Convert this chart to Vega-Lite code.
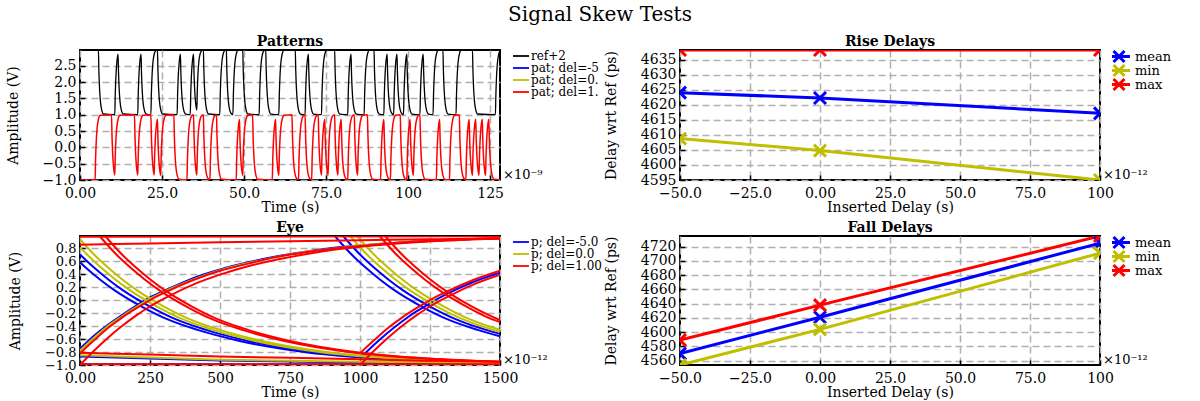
{
"$schema":"https://vega.github.io/schema/vega-lite/v6.json",
"title":{"text":"Signal Skew Tests","fontSize":20,"fontWeight":"normal","anchor":"middle","offset":9,"dx":11},
"padding":5,
"columns":2,
"spacing":{"row":56,"column":180},
"bounds":"flush",
"resolve":{"scale":{"color":"independent"},"legend":{"color":"independent"}},
"datasets":{
"ref":[{"t":0,"v":3},{"t":5.6,"v":3},{"t":5.75,"v":2.36},{"t":5.95,"v":1.82},{"t":6.2,"v":1.43},{"t":6.6,"v":1.15},{"t":7.2,"v":1.02},
{"t":10.6,"v":1},{"t":10.75,"v":1.64},{"t":10.95,"v":2.18},{"t":11.2,"v":2.57},{"t":11.6,"v":2.85},
{"t":11.75,"v":2.26},{"t":11.95,"v":1.76},{"t":12.2,"v":1.4},{"t":12.6,"v":1.14},{"t":13.2,"v":1.02},
{"t":17.6,"v":1},{"t":17.75,"v":1.64},{"t":17.95,"v":2.18},{"t":18.2,"v":2.57},{"t":18.6,"v":2.85},
{"t":18.75,"v":2.26},{"t":18.95,"v":1.76},{"t":19.2,"v":1.4},{"t":19.6,"v":1.14},{"t":20.2,"v":1.02},
{"t":21.6,"v":1},{"t":21.75,"v":1.64},{"t":21.95,"v":2.18},{"t":22.2,"v":2.57},{"t":22.6,"v":2.85},{"t":23.2,"v":2.98},
{"t":23.6,"v":3},{"t":23.75,"v":2.36},{"t":23.95,"v":1.82},{"t":24.2,"v":1.43},{"t":24.6,"v":1.15},{"t":25.2,"v":1.02},
{"t":29.6,"v":1},{"t":29.75,"v":1.64},{"t":29.95,"v":2.18},{"t":30.2,"v":2.57},{"t":30.6,"v":2.85},
{"t":30.75,"v":2.26},{"t":30.95,"v":1.76},{"t":31.2,"v":1.4},{"t":31.6,"v":1.14},{"t":32.2,"v":1.02},
{"t":33.6,"v":1},{"t":33.75,"v":1.64},{"t":33.95,"v":2.18},{"t":34.2,"v":2.57},{"t":34.6,"v":2.85},
{"t":34.75,"v":2.26},{"t":34.95,"v":1.76},{"t":35.2,"v":1.4},{"t":35.6,"v":1.14},
{"t":35.75,"v":1.74},{"t":35.95,"v":2.25},{"t":36.2,"v":2.6},{"t":36.6,"v":2.86},{"t":37.2,"v":2.98},
{"t":37.6,"v":3},{"t":37.75,"v":2.36},{"t":37.95,"v":1.82},{"t":38.2,"v":1.43},{"t":38.6,"v":1.15},{"t":39.2,"v":1.02},
{"t":42.6,"v":1},{"t":42.75,"v":1.64},{"t":42.95,"v":2.18},{"t":43.2,"v":2.57},{"t":43.6,"v":2.85},{"t":44.2,"v":2.98},
{"t":44.6,"v":3},{"t":44.75,"v":2.36},{"t":44.95,"v":1.82},{"t":45.2,"v":1.43},{"t":45.6,"v":1.15},{"t":46.2,"v":1.02},
{"t":46.6,"v":1},{"t":46.75,"v":1.64},{"t":46.95,"v":2.18},{"t":47.2,"v":2.57},{"t":47.6,"v":2.85},{"t":48.2,"v":2.98},
{"t":49.6,"v":3},{"t":49.75,"v":2.36},{"t":49.95,"v":1.82},{"t":50.2,"v":1.43},{"t":50.6,"v":1.15},{"t":51.2,"v":1.02},
{"t":54.6,"v":1},{"t":54.75,"v":1.64},{"t":54.95,"v":2.18},{"t":55.2,"v":2.57},{"t":55.6,"v":2.85},{"t":56.2,"v":2.98},
{"t":56.6,"v":3},{"t":56.75,"v":2.36},{"t":56.95,"v":1.82},{"t":57.2,"v":1.43},{"t":57.6,"v":1.15},{"t":58.2,"v":1.02},
{"t":60.6,"v":1},{"t":60.75,"v":1.64},{"t":60.95,"v":2.18},{"t":61.2,"v":2.57},{"t":61.6,"v":2.85},{"t":62.2,"v":2.98},
{"t":65.6,"v":3},{"t":65.75,"v":2.36},{"t":65.95,"v":1.82},{"t":66.2,"v":1.43},{"t":66.6,"v":1.15},{"t":67.2,"v":1.02},
{"t":68.6,"v":1},{"t":68.75,"v":1.64},{"t":68.95,"v":2.18},{"t":69.2,"v":2.57},{"t":69.6,"v":2.85},
{"t":69.75,"v":2.26},{"t":69.95,"v":1.76},{"t":70.2,"v":1.4},{"t":70.6,"v":1.14},{"t":71.2,"v":1.02},
{"t":73.6,"v":1},{"t":73.75,"v":1.64},{"t":73.95,"v":2.18},{"t":74.2,"v":2.57},{"t":74.6,"v":2.85},{"t":75.2,"v":2.98},
{"t":77.6,"v":3},{"t":77.75,"v":2.36},{"t":77.95,"v":1.82},{"t":78.2,"v":1.43},{"t":78.6,"v":1.15},{"t":79.2,"v":1.02},
{"t":81.6,"v":1},{"t":81.75,"v":1.64},{"t":81.95,"v":2.18},{"t":82.2,"v":2.57},{"t":82.6,"v":2.85},
{"t":82.75,"v":2.26},{"t":82.95,"v":1.76},{"t":83.2,"v":1.4},{"t":83.6,"v":1.14},{"t":84.2,"v":1.02},
{"t":86.6,"v":1},{"t":86.75,"v":1.64},{"t":86.95,"v":2.18},{"t":87.2,"v":2.57},{"t":87.6,"v":2.85},{"t":88.2,"v":2.98},
{"t":89.6,"v":3},{"t":89.75,"v":2.36},{"t":89.95,"v":1.82},{"t":90.2,"v":1.43},{"t":90.6,"v":1.15},{"t":91.2,"v":1.02},
{"t":92.6,"v":1},{"t":92.75,"v":1.64},{"t":92.95,"v":2.18},{"t":93.2,"v":2.57},{"t":93.6,"v":2.85},
{"t":93.75,"v":2.26},{"t":93.95,"v":1.76},{"t":94.2,"v":1.4},{"t":94.6,"v":1.14},{"t":95.2,"v":1.02},
{"t":95.6,"v":1},{"t":95.75,"v":1.64},{"t":95.95,"v":2.18},{"t":96.2,"v":2.57},{"t":96.6,"v":2.85},
{"t":96.75,"v":2.26},{"t":96.95,"v":1.76},{"t":97.2,"v":1.4},{"t":97.6,"v":1.14},{"t":98.2,"v":1.02},
{"t":98.6,"v":1},{"t":98.75,"v":1.64},{"t":98.95,"v":2.18},{"t":99.2,"v":2.57},{"t":99.6,"v":2.85},
{"t":99.75,"v":2.26},{"t":99.95,"v":1.76},{"t":100.2,"v":1.4},{"t":100.6,"v":1.14},{"t":101.2,"v":1.02},
{"t":103.6,"v":1},{"t":103.75,"v":1.64},{"t":103.95,"v":2.18},{"t":104.2,"v":2.57},{"t":104.6,"v":2.85},
{"t":104.75,"v":2.26},{"t":104.95,"v":1.76},{"t":105.2,"v":1.4},{"t":105.6,"v":1.14},{"t":106.2,"v":1.02},
{"t":107.6,"v":1},{"t":107.75,"v":1.64},{"t":107.95,"v":2.18},{"t":108.2,"v":2.57},{"t":108.6,"v":2.85},{"t":109.2,"v":2.98},
{"t":110.6,"v":3},{"t":110.75,"v":2.36},{"t":110.95,"v":1.82},{"t":111.2,"v":1.43},{"t":111.6,"v":1.15},{"t":112.2,"v":1.02},
{"t":114.6,"v":1},{"t":114.75,"v":1.64},{"t":114.95,"v":2.18},{"t":115.2,"v":2.57},{"t":115.6,"v":2.85},{"t":116.2,"v":2.98},
{"t":119.6,"v":3},{"t":119.75,"v":2.36},{"t":119.95,"v":1.82},{"t":120.2,"v":1.43},{"t":120.6,"v":1.15},{"t":121.2,"v":1.02},
{"t":126.6,"v":1},{"t":126.75,"v":1.64},{"t":126.95,"v":2.18},{"t":127.2,"v":2.57},{"t":127.6,"v":2.85},{"t":128,"v":2.95}],
"pat":[{"t":0,"v":-1},{"t":4.6,"v":-1},{"t":4.75,"v":-0.36},{"t":4.95,"v":0.18},{"t":5.2,"v":0.57},{"t":5.6,"v":0.85},{"t":6.2,"v":0.98},
{"t":9.6,"v":1},{"t":9.75,"v":0.36},{"t":9.95,"v":-0.18},{"t":10.2,"v":-0.57},{"t":10.6,"v":-0.85},
{"t":10.75,"v":-0.26},{"t":10.95,"v":0.25},{"t":11.2,"v":0.6},{"t":11.6,"v":0.86},{"t":12.2,"v":0.98},
{"t":16.6,"v":1},{"t":16.75,"v":0.36},{"t":16.95,"v":-0.18},{"t":17.2,"v":-0.57},{"t":17.6,"v":-0.85},
{"t":17.75,"v":-0.26},{"t":17.95,"v":0.25},{"t":18.2,"v":0.6},{"t":18.6,"v":0.86},{"t":19.2,"v":0.98},
{"t":21.6,"v":1},{"t":21.75,"v":0.36},{"t":21.95,"v":-0.18},{"t":22.2,"v":-0.57},{"t":22.6,"v":-0.85},
{"t":22.75,"v":-0.26},{"t":22.95,"v":0.25},{"t":23.2,"v":0.6},{"t":23.6,"v":0.86},
{"t":23.75,"v":0.26},{"t":23.95,"v":-0.25},{"t":24.2,"v":-0.6},{"t":24.6,"v":-0.86},
{"t":24.75,"v":-0.26},{"t":24.95,"v":0.25},{"t":25.2,"v":0.6},{"t":25.6,"v":0.86},{"t":26.2,"v":0.98},
{"t":28.6,"v":1},{"t":28.75,"v":0.36},{"t":28.95,"v":-0.18},{"t":29.2,"v":-0.57},{"t":29.6,"v":-0.85},{"t":30.2,"v":-0.98},
{"t":32.6,"v":-1},{"t":32.75,"v":-0.36},{"t":32.95,"v":0.18},{"t":33.2,"v":0.57},{"t":33.6,"v":0.85},{"t":34.2,"v":0.98},
{"t":34.6,"v":1},{"t":34.75,"v":0.36},{"t":34.95,"v":-0.18},{"t":35.2,"v":-0.57},{"t":35.6,"v":-0.85},
{"t":35.75,"v":-0.26},{"t":35.95,"v":0.25},{"t":36.2,"v":0.6},{"t":36.6,"v":0.86},{"t":37.2,"v":0.98},
{"t":37.6,"v":1},{"t":37.75,"v":0.36},{"t":37.95,"v":-0.18},{"t":38.2,"v":-0.57},{"t":38.6,"v":-0.85},{"t":39.2,"v":-0.98},
{"t":39.6,"v":-1},{"t":39.75,"v":-0.36},{"t":39.95,"v":0.18},{"t":40.2,"v":0.57},{"t":40.6,"v":0.85},{"t":41.2,"v":0.98},
{"t":41.6,"v":1},{"t":41.75,"v":0.36},{"t":41.95,"v":-0.18},{"t":42.2,"v":-0.57},{"t":42.6,"v":-0.85},{"t":43.2,"v":-0.98},
{"t":47.6,"v":-1},{"t":47.75,"v":-0.36},{"t":47.95,"v":0.18},{"t":48.2,"v":0.57},{"t":48.6,"v":0.85},
{"t":48.75,"v":0.26},{"t":48.95,"v":-0.25},{"t":49.2,"v":-0.6},{"t":49.6,"v":-0.86},
{"t":49.75,"v":-0.26},{"t":49.95,"v":0.25},{"t":50.2,"v":0.6},{"t":50.6,"v":0.86},{"t":51.2,"v":0.98},
{"t":52.6,"v":1},{"t":52.75,"v":0.36},{"t":52.95,"v":-0.18},{"t":53.2,"v":-0.57},{"t":53.6,"v":-0.85},{"t":54.2,"v":-0.98},
{"t":58.6,"v":-1},{"t":58.75,"v":-0.36},{"t":58.95,"v":0.18},{"t":59.2,"v":0.57},{"t":59.6,"v":0.85},
{"t":59.75,"v":0.26},{"t":59.95,"v":-0.25},{"t":60.2,"v":-0.6},{"t":60.6,"v":-0.86},
{"t":60.75,"v":-0.26},{"t":60.95,"v":0.25},{"t":61.2,"v":0.6},{"t":61.6,"v":0.86},{"t":62.2,"v":0.98},
{"t":64.6,"v":1},{"t":64.75,"v":0.36},{"t":64.95,"v":-0.18},{"t":65.2,"v":-0.57},{"t":65.6,"v":-0.85},{"t":66.2,"v":-0.98},
{"t":66.6,"v":-1},{"t":66.75,"v":-0.36},{"t":66.95,"v":0.18},{"t":67.2,"v":0.57},{"t":67.6,"v":0.85},{"t":68.2,"v":0.98},
{"t":68.6,"v":1},{"t":68.75,"v":0.36},{"t":68.95,"v":-0.18},{"t":69.2,"v":-0.57},{"t":69.6,"v":-0.85},{"t":70.2,"v":-0.98},
{"t":70.6,"v":-1},{"t":70.75,"v":-0.36},{"t":70.95,"v":0.18},{"t":71.2,"v":0.57},{"t":71.6,"v":0.85},{"t":72.2,"v":0.98},
{"t":72.6,"v":1},{"t":72.75,"v":0.36},{"t":72.95,"v":-0.18},{"t":73.2,"v":-0.57},{"t":73.6,"v":-0.85},
{"t":73.75,"v":-0.26},{"t":73.95,"v":0.25},{"t":74.2,"v":0.6},{"t":74.6,"v":0.86},
{"t":74.75,"v":0.26},{"t":74.95,"v":-0.25},{"t":75.2,"v":-0.6},{"t":75.6,"v":-0.86},
{"t":75.75,"v":-0.26},{"t":75.95,"v":0.25},{"t":76.2,"v":0.6},{"t":76.6,"v":0.86},{"t":77.2,"v":0.98},
{"t":77.6,"v":1},{"t":77.75,"v":0.36},{"t":77.95,"v":-0.18},{"t":78.2,"v":-0.57},{"t":78.6,"v":-0.85},
{"t":78.75,"v":-0.26},{"t":78.95,"v":0.25},{"t":79.2,"v":0.6},{"t":79.6,"v":0.86},
{"t":79.75,"v":0.26},{"t":79.95,"v":-0.25},{"t":80.2,"v":-0.6},{"t":80.6,"v":-0.86},{"t":81.2,"v":-0.98},
{"t":81.6,"v":-1},{"t":81.75,"v":-0.36},{"t":81.95,"v":0.18},{"t":82.2,"v":0.57},{"t":82.6,"v":0.85},{"t":83.2,"v":0.98},
{"t":83.6,"v":1},{"t":83.75,"v":0.36},{"t":83.95,"v":-0.18},{"t":84.2,"v":-0.57},{"t":84.6,"v":-0.85},
{"t":84.75,"v":-0.26},{"t":84.95,"v":0.25},{"t":85.2,"v":0.6},{"t":85.6,"v":0.86},{"t":86.2,"v":0.98},
{"t":87.6,"v":1},{"t":87.75,"v":0.36},{"t":87.95,"v":-0.18},{"t":88.2,"v":-0.57},{"t":88.6,"v":-0.85},{"t":89.2,"v":-0.98},
{"t":91.6,"v":-1},{"t":91.75,"v":-0.36},{"t":91.95,"v":0.18},{"t":92.2,"v":0.57},{"t":92.6,"v":0.85},
{"t":92.75,"v":0.26},{"t":92.95,"v":-0.25},{"t":93.2,"v":-0.6},{"t":93.6,"v":-0.86},{"t":94.2,"v":-0.98},
{"t":94.6,"v":-1},{"t":94.75,"v":-0.36},{"t":94.95,"v":0.18},{"t":95.2,"v":0.57},{"t":95.6,"v":0.85},{"t":96.2,"v":0.98},
{"t":97.6,"v":1},{"t":97.75,"v":0.36},{"t":97.95,"v":-0.18},{"t":98.2,"v":-0.57},{"t":98.6,"v":-0.85},{"t":99.2,"v":-0.98},
{"t":99.6,"v":-1},{"t":99.75,"v":-0.36},{"t":99.95,"v":0.18},{"t":100.2,"v":0.57},{"t":100.6,"v":0.85},
{"t":100.75,"v":0.26},{"t":100.95,"v":-0.25},{"t":101.2,"v":-0.6},{"t":101.6,"v":-0.86},
{"t":101.75,"v":-0.26},{"t":101.95,"v":0.25},{"t":102.2,"v":0.6},{"t":102.6,"v":0.86},{"t":103.2,"v":0.98},
{"t":103.6,"v":1},{"t":103.75,"v":0.36},{"t":103.95,"v":-0.18},{"t":104.2,"v":-0.57},{"t":104.6,"v":-0.85},{"t":105.2,"v":-0.98},
{"t":108.6,"v":-1},{"t":108.75,"v":-0.36},{"t":108.95,"v":0.18},{"t":109.2,"v":0.57},{"t":109.6,"v":0.85},
{"t":109.75,"v":0.26},{"t":109.95,"v":-0.25},{"t":110.2,"v":-0.6},{"t":110.6,"v":-0.86},{"t":111.2,"v":-0.98},
{"t":112.6,"v":-1},{"t":112.75,"v":-0.36},{"t":112.95,"v":0.18},{"t":113.2,"v":0.57},{"t":113.6,"v":0.85},{"t":114.2,"v":0.98},
{"t":115.6,"v":1},{"t":115.75,"v":0.36},{"t":115.95,"v":-0.18},{"t":116.2,"v":-0.57},{"t":116.6,"v":-0.85},{"t":117.2,"v":-0.98},
{"t":117.6,"v":-1},{"t":117.75,"v":-0.36},{"t":117.95,"v":0.18},{"t":118.2,"v":0.57},{"t":118.6,"v":0.85},
{"t":118.75,"v":0.26},{"t":118.95,"v":-0.25},{"t":119.2,"v":-0.6},{"t":119.6,"v":-0.86},
{"t":119.75,"v":-0.26},{"t":119.95,"v":0.25},{"t":120.2,"v":0.6},{"t":120.6,"v":0.86},
{"t":120.75,"v":0.26},{"t":120.95,"v":-0.25},{"t":121.2,"v":-0.6},{"t":121.6,"v":-0.86},
{"t":121.75,"v":-0.26},{"t":121.95,"v":0.25},{"t":122.2,"v":0.6},{"t":122.6,"v":0.86},
{"t":122.75,"v":0.26},{"t":122.95,"v":-0.25},{"t":123.2,"v":-0.6},{"t":123.6,"v":-0.86},
{"t":123.75,"v":-0.26},{"t":123.95,"v":0.25},{"t":124.2,"v":0.6},{"t":124.6,"v":0.86},
{"t":124.75,"v":0.26},{"t":124.95,"v":-0.25},{"t":125.2,"v":-0.6},{"t":125.6,"v":-0.86},{"t":126.2,"v":-0.98},{"t":128,"v":-1}],
"eyeB":[
{"c":"f1","t":0,"v":0.70},{"c":"f1","t":50,"v":0.50},{"c":"f1","t":100,"v":0.32},{"c":"f1","t":150,"v":0.16},{"c":"f1","t":250,"v":-0.10},{"c":"f1","t":350,"v":-0.31},{"c":"f1","t":450,"v":-0.46},{"c":"f1","t":600,"v":-0.63},{"c":"f1","t":850,"v":-0.81},{"c":"f1","t":1100,"v":-0.90},{"c":"f1","t":1350,"v":-0.95},{"c":"f1","t":1500,"v":-0.97},
{"c":"f2","t":0,"v":0.58},{"c":"f2","t":20,"v":0.50},{"c":"f2","t":70,"v":0.32},{"c":"f2","t":120,"v":0.16},{"c":"f2","t":220,"v":-0.10},{"c":"f2","t":320,"v":-0.31},{"c":"f2","t":420,"v":-0.46},{"c":"f2","t":570,"v":-0.63},{"c":"f2","t":820,"v":-0.81},{"c":"f2","t":1070,"v":-0.90},{"c":"f2","t":1320,"v":-0.95},{"c":"f2","t":1500,"v":-0.97},
{"c":"f3","t":937,"v":1.0},{"c":"f3","t":950,"v":0.935},{"c":"f3","t":1000,"v":0.70},{"c":"f3","t":1050,"v":0.50},{"c":"f3","t":1100,"v":0.32},{"c":"f3","t":1150,"v":0.16},{"c":"f3","t":1250,"v":-0.10},{"c":"f3","t":1350,"v":-0.31},{"c":"f3","t":1450,"v":-0.46},{"c":"f3","t":1500,"v":-0.52},
{"c":"f4","t":907,"v":1.0},{"c":"f4","t":920,"v":0.935},{"c":"f4","t":970,"v":0.70},{"c":"f4","t":1020,"v":0.50},{"c":"f4","t":1070,"v":0.32},{"c":"f4","t":1120,"v":0.16},{"c":"f4","t":1220,"v":-0.10},{"c":"f4","t":1320,"v":-0.31},{"c":"f4","t":1420,"v":-0.46},{"c":"f4","t":1500,"v":-0.56},
{"c":"r1","t":0,"v":-0.75},{"c":"r1","t":50,"v":-0.55},{"c":"r1","t":100,"v":-0.38},{"c":"r1","t":150,"v":-0.23},{"c":"r1","t":200,"v":-0.09},{"c":"r1","t":250,"v":0.04},{"c":"r1","t":300,"v":0.14},{"c":"r1","t":400,"v":0.33},{"c":"r1","t":500,"v":0.47},{"c":"r1","t":600,"v":0.58},{"c":"r1","t":700,"v":0.67},{"c":"r1","t":800,"v":0.74},{"c":"r1","t":900,"v":0.80},{"c":"r1","t":1000,"v":0.84},{"c":"r1","t":1200,"v":0.90},{"c":"r1","t":1400,"v":0.94},{"c":"r1","t":1500,"v":0.95},
{"c":"r2","t":1000,"v":-0.9},{"c":"r2","t":1050,"v":-0.69},{"c":"r2","t":1100,"v":-0.5},{"c":"r2","t":1150,"v":-0.33},{"c":"r2","t":1200,"v":-0.18},{"c":"r2","t":1250,"v":-0.05},{"c":"r2","t":1300,"v":0.07},{"c":"r2","t":1400,"v":0.27},{"c":"r2","t":1500,"v":0.42},
{"c":"l1","t":0,"v":-0.87},{"c":"l1","t":500,"v":-0.93},{"c":"l1","t":1000,"v":-0.96},{"c":"l1","t":1500,"v":-0.975},
{"c":"l2","t":0,"v":-0.99},{"c":"l2","t":1500,"v":-0.99}],
"eyeY":[
{"c":"f1","t":0,"v":0.935},{"c":"f1","t":50,"v":0.70},{"c":"f1","t":100,"v":0.50},{"c":"f1","t":150,"v":0.32},{"c":"f1","t":200,"v":0.16},{"c":"f1","t":300,"v":-0.10},{"c":"f1","t":400,"v":-0.31},{"c":"f1","t":500,"v":-0.46},{"c":"f1","t":650,"v":-0.63},{"c":"f1","t":900,"v":-0.81},{"c":"f1","t":1150,"v":-0.90},{"c":"f1","t":1400,"v":-0.95},{"c":"f1","t":1500,"v":-0.96},
{"c":"f2","t":0,"v":0.81},{"c":"f2","t":25,"v":0.70},{"c":"f2","t":75,"v":0.50},{"c":"f2","t":125,"v":0.32},{"c":"f2","t":175,"v":0.16},{"c":"f2","t":275,"v":-0.10},{"c":"f2","t":375,"v":-0.31},{"c":"f2","t":475,"v":-0.46},{"c":"f2","t":625,"v":-0.63},{"c":"f2","t":875,"v":-0.81},{"c":"f2","t":1125,"v":-0.90},{"c":"f2","t":1375,"v":-0.95},{"c":"f2","t":1500,"v":-0.96},
{"c":"f3","t":987,"v":1.0},{"c":"f3","t":1000,"v":0.935},{"c":"f3","t":1050,"v":0.70},{"c":"f3","t":1100,"v":0.50},{"c":"f3","t":1150,"v":0.32},{"c":"f3","t":1200,"v":0.16},{"c":"f3","t":1300,"v":-0.10},{"c":"f3","t":1400,"v":-0.31},{"c":"f3","t":1500,"v":-0.46},
{"c":"f4","t":962,"v":1.0},{"c":"f4","t":975,"v":0.935},{"c":"f4","t":1025,"v":0.70},{"c":"f4","t":1075,"v":0.50},{"c":"f4","t":1125,"v":0.32},{"c":"f4","t":1175,"v":0.16},{"c":"f4","t":1275,"v":-0.10},{"c":"f4","t":1375,"v":-0.31},{"c":"f4","t":1475,"v":-0.46},{"c":"f4","t":1500,"v":-0.49},
{"c":"r1","t":0,"v":-0.78},{"c":"r1","t":50,"v":-0.58},{"c":"r1","t":100,"v":-0.40},{"c":"r1","t":150,"v":-0.25},{"c":"r1","t":200,"v":-0.11},{"c":"r1","t":250,"v":0.02},{"c":"r1","t":300,"v":0.13},{"c":"r1","t":400,"v":0.31},{"c":"r1","t":500,"v":0.46},{"c":"r1","t":600,"v":0.57},{"c":"r1","t":700,"v":0.66},{"c":"r1","t":800,"v":0.74},{"c":"r1","t":900,"v":0.79},{"c":"r1","t":1000,"v":0.84},{"c":"r1","t":1200,"v":0.90},{"c":"r1","t":1400,"v":0.94},{"c":"r1","t":1500,"v":0.95},
{"c":"l1","t":0,"v":-0.85},{"c":"l1","t":500,"v":-0.92},{"c":"l1","t":1000,"v":-0.95},{"c":"l1","t":1500,"v":-0.97}],
"eyeR":[
{"c":"f1","t":87,"v":1.0},{"c":"f1","t":100,"v":0.935},{"c":"f1","t":150,"v":0.70},{"c":"f1","t":200,"v":0.50},{"c":"f1","t":250,"v":0.32},{"c":"f1","t":300,"v":0.16},{"c":"f1","t":400,"v":-0.10},{"c":"f1","t":500,"v":-0.31},{"c":"f1","t":600,"v":-0.46},{"c":"f1","t":750,"v":-0.63},{"c":"f1","t":1000,"v":-0.81},{"c":"f1","t":1250,"v":-0.90},{"c":"f1","t":1500,"v":-0.95},
{"c":"f2","t":67,"v":1.0},{"c":"f2","t":80,"v":0.935},{"c":"f2","t":130,"v":0.70},{"c":"f2","t":180,"v":0.50},{"c":"f2","t":230,"v":0.32},{"c":"f2","t":280,"v":0.16},{"c":"f2","t":380,"v":-0.10},{"c":"f2","t":480,"v":-0.31},{"c":"f2","t":580,"v":-0.46},{"c":"f2","t":730,"v":-0.63},{"c":"f2","t":980,"v":-0.81},{"c":"f2","t":1230,"v":-0.90},{"c":"f2","t":1500,"v":-0.95},
{"c":"f3","t":1087,"v":1.0},{"c":"f3","t":1100,"v":0.935},{"c":"f3","t":1150,"v":0.70},{"c":"f3","t":1200,"v":0.50},{"c":"f3","t":1250,"v":0.32},{"c":"f3","t":1300,"v":0.16},{"c":"f3","t":1400,"v":-0.10},{"c":"f3","t":1500,"v":-0.31},
{"c":"f4","t":1067,"v":1.0},{"c":"f4","t":1080,"v":0.935},{"c":"f4","t":1130,"v":0.70},{"c":"f4","t":1180,"v":0.50},{"c":"f4","t":1230,"v":0.32},{"c":"f4","t":1280,"v":0.16},{"c":"f4","t":1380,"v":-0.10},{"c":"f4","t":1480,"v":-0.31},{"c":"f4","t":1500,"v":-0.34},
{"c":"r1","t":0,"v":-0.82},{"c":"r1","t":50,"v":-0.62},{"c":"r1","t":100,"v":-0.43},{"c":"r1","t":150,"v":-0.27},{"c":"r1","t":200,"v":-0.13},{"c":"r1","t":250,"v":0.0},{"c":"r1","t":300,"v":0.11},{"c":"r1","t":400,"v":0.30},{"c":"r1","t":500,"v":0.45},{"c":"r1","t":600,"v":0.56},{"c":"r1","t":700,"v":0.66},{"c":"r1","t":800,"v":0.73},{"c":"r1","t":900,"v":0.79},{"c":"r1","t":1000,"v":0.83},{"c":"r1","t":1200,"v":0.90},{"c":"r1","t":1400,"v":0.94},{"c":"r1","t":1500,"v":0.95},
{"c":"r2","t":0,"v":-1.0},{"c":"r2","t":50,"v":-0.78},{"c":"r2","t":100,"v":-0.58},{"c":"r2","t":150,"v":-0.40},{"c":"r2","t":200,"v":-0.24},{"c":"r2","t":250,"v":-0.10},{"c":"r2","t":300,"v":0.02},{"c":"r2","t":400,"v":0.23},{"c":"r2","t":500,"v":0.39},{"c":"r2","t":600,"v":0.52},{"c":"r2","t":700,"v":0.62},{"c":"r2","t":800,"v":0.70},{"c":"r2","t":900,"v":0.77},{"c":"r2","t":1000,"v":0.82},{"c":"r2","t":1200,"v":0.89},{"c":"r2","t":1400,"v":0.93},{"c":"r2","t":1500,"v":0.945},
{"c":"r3","t":1000,"v":-0.82},{"c":"r3","t":1050,"v":-0.62},{"c":"r3","t":1100,"v":-0.43},{"c":"r3","t":1150,"v":-0.27},{"c":"r3","t":1200,"v":-0.13},{"c":"r3","t":1250,"v":0.0},{"c":"r3","t":1300,"v":0.11},{"c":"r3","t":1400,"v":0.30},{"c":"r3","t":1500,"v":0.45},
{"c":"r4","t":1000,"v":-1.0},{"c":"r4","t":1050,"v":-0.78},{"c":"r4","t":1100,"v":-0.58},{"c":"r4","t":1150,"v":-0.40},{"c":"r4","t":1200,"v":-0.24},{"c":"r4","t":1250,"v":-0.10},{"c":"r4","t":1300,"v":0.02},{"c":"r4","t":1400,"v":0.23},{"c":"r4","t":1500,"v":0.39},
{"c":"h1","t":0,"v":0.85},{"c":"h1","t":250,"v":0.87},{"c":"h1","t":500,"v":0.89},{"c":"h1","t":750,"v":0.905},{"c":"h1","t":1000,"v":0.92},{"c":"h1","t":1250,"v":0.935},{"c":"h1","t":1500,"v":0.945},
{"c":"h2","t":0,"v":0.975},{"c":"h2","t":1500,"v":0.98},
{"c":"l1","t":0,"v":-0.81},{"c":"l1","t":250,"v":-0.84},{"c":"l1","t":500,"v":-0.87},{"c":"l1","t":750,"v":-0.89},{"c":"l1","t":1000,"v":-0.91},{"c":"l1","t":1250,"v":-0.935},{"c":"l1","t":1500,"v":-0.95},
{"c":"l2","t":0,"v":-0.99},{"c":"l2","t":1500,"v":-0.99}],
"rise":[
{"stat":"mean","d":-50,"v":4624.1},{"stat":"mean","d":0,"v":4622.3},{"stat":"mean","d":100,"v":4617.2},
{"stat":"min","d":-50,"v":4608.8},{"stat":"min","d":0,"v":4604.8},{"stat":"min","d":100,"v":4595},
{"stat":"max","d":-50,"v":4638.3},{"stat":"max","d":0,"v":4638.3},{"stat":"max","d":100,"v":4638.3}],
"fall":[
{"stat":"mean","d":-50,"v":4570},{"stat":"mean","d":0,"v":4621},{"stat":"mean","d":100,"v":4725},
{"stat":"min","d":-50,"v":4554},{"stat":"min","d":0,"v":4604},{"stat":"min","d":100,"v":4711},
{"stat":"max","d":-50,"v":4589},{"stat":"max","d":0,"v":4638},{"stat":"max","d":100,"v":4735}]
},
"concat":[
{
"width":420,"height":130,"title":"Patterns",
"layer":[
{"data":{"name":"ref"},"mark":{"type":"line","clip":true,"strokeWidth":1.3,"interpolate":"monotone"},
"encoding":{
"x":{"field":"t","type":"quantitative","scale":{"domain":[0,128],"nice":false,"zero":false},"axis":{"title":"Time (s)","labelOverlap":false,"tickCount":50,"values":[0,25,50,75,100,125],"labelExpr":"datum.value == 0 ? '0.00' : datum.value < 100 ? format(datum.value, '.1f') : format(datum.value, 'd')"}},
"y":{"field":"v","type":"quantitative","scale":{"domain":[-1,2.98],"nice":false,"zero":false},"axis":{"title":"Amplitude (V)","labelOverlap":false,"tickCount":50,"values":[-1,-0.5,0,0.5,1,1.5,2,2.5],"format":".1f"}},
"color":{"datum":"ref+2","type":"nominal","scale":{"domain":["ref+2","pat; del=-5","pat; del=0.","pat; del=1."],"range":["#000000","#0000ff","#bfbf00","#ff0000"]},"legend":{"title":null,"symbolType":"M-2,0L2,0","symbolSize":100,"symbolStrokeWidth":1.8,"offset":13,"rowPadding":0,"clipHeight":12,"labelFontSize":12}}}},
{"data":{"name":"pat"},"mark":{"type":"line","clip":true,"strokeWidth":1.5,"interpolate":"monotone"},
"encoding":{"x":{"field":"t","type":"quantitative"},"y":{"field":"v","type":"quantitative"},"color":{"datum":"pat; del=1.","type":"nominal"}}},
{"data":{"values":[{}]},"mark":{"type":"text","text":"×10⁻⁹","align":"left","baseline":"middle","dx":3,"dy":-5,"fontSize":13,"font":"DejaVu Serif"},
"encoding":{"x":{"datum":128,"type":"quantitative"},"y":{"datum":-1,"type":"quantitative"}}}
]},
{
"width":420,"height":130,"title":"Rise Delays",
"layer":[
{"data":{"name":"rise"},"mark":{"type":"line","clip":true,"strokeWidth":3},
"encoding":{
"x":{"field":"d","type":"quantitative","scale":{"domain":[-50,100],"nice":false,"zero":false},"axis":{"title":"Inserted Delay (s)","labelOverlap":false,"tickCount":50,"values":[-50,-25,0,25,50,75,100],"labelExpr":"datum.value == 0 ? '0.00' : datum.value == 100 ? '100' : format(datum.value, '.1f')"}},
"y":{"field":"v","type":"quantitative","scale":{"domain":[4595,4638.3],"nice":false,"zero":false},"axis":{"title":"Delay wrt Ref (ps)","labelOverlap":false,"tickCount":50,"values":[4595,4600,4605,4610,4615,4620,4625,4630,4635],"format":"d"}},
"color":{"field":"stat","type":"nominal","scale":{"domain":["mean","min","max"],"range":["#0000ff","#bfbf00","#ff0000"]},"legend":{"title":null,"symbolType":"M-2,0L2,0M-1,-1L1,1M-1,1L1,-1","symbolSize":121,"symbolStrokeWidth":3,"labelFontSize":13,"offset":12,"labelOffset":9,"rowPadding":0,"clipHeight":13}}}},
{"data":{"name":"rise"},"mark":{"type":"point","clip":true,"shape":"M-1,-1L1,1M-1,1L1,-1","size":144,"filled":false,"strokeWidth":3,"opacity":1},
"encoding":{"x":{"field":"d","type":"quantitative"},"y":{"field":"v","type":"quantitative"},"color":{"field":"stat","type":"nominal"}}},
{"data":{"values":[{}]},"mark":{"type":"text","text":"×10⁻¹²","align":"left","baseline":"middle","dx":3,"dy":-5,"fontSize":13,"font":"DejaVu Serif"},
"encoding":{"x":{"datum":100,"type":"quantitative"},"y":{"datum":4595,"type":"quantitative"}}}
]},
{
"width":420,"height":129,"title":"Eye",
"layer":[
{"data":{"name":"eyeB"},"mark":{"type":"line","clip":true,"strokeWidth":2,"interpolate":"monotone"},
"encoding":{
"x":{"field":"t","type":"quantitative","scale":{"domain":[0,1500],"nice":false,"zero":false},"axis":{"title":"Time (s)","labelOverlap":false,"tickCount":50,"values":[0,250,500,750,1000,1250,1500],"labelExpr":"datum.value == 0 ? '0.00' : format(datum.value, 'd')"}},
"y":{"field":"v","type":"quantitative","scale":{"domain":[-1,0.985],"nice":false,"zero":false},"axis":{"title":"Amplitude (V)","labelOverlap":false,"labelFontSize":13,"tickCount":50,"values":[-1,-0.8,-0.6,-0.4,-0.2,0,0.2,0.4,0.6,0.8],"format":".1f"}},
"detail":{"field":"c"},
"color":{"datum":"p; del=-5.0","type":"nominal","scale":{"domain":["p; del=-5.0","p; del=0.0","p; del=1.00"],"range":["#0000ff","#bfbf00","#ff0000"]},"legend":{"title":null,"symbolType":"M-2,0L2,0","symbolSize":100,"symbolStrokeWidth":1.8,"offset":13,"rowPadding":0,"clipHeight":12,"labelFontSize":12}}}},
{"data":{"name":"eyeY"},"mark":{"type":"line","clip":true,"strokeWidth":2,"interpolate":"monotone"},
"encoding":{"x":{"field":"t","type":"quantitative"},"y":{"field":"v","type":"quantitative"},"detail":{"field":"c"},"color":{"datum":"p; del=0.0","type":"nominal"}}},
{"data":{"name":"eyeR"},"mark":{"type":"line","clip":true,"strokeWidth":2,"interpolate":"monotone"},
"encoding":{"x":{"field":"t","type":"quantitative"},"y":{"field":"v","type":"quantitative"},"detail":{"field":"c"},"color":{"datum":"p; del=1.00","type":"nominal"}}},
{"data":{"values":[{}]},"mark":{"type":"text","text":"×10⁻¹²","align":"left","baseline":"middle","dx":3,"dy":-5,"fontSize":13,"font":"DejaVu Serif"},
"encoding":{"x":{"datum":1500,"type":"quantitative"},"y":{"datum":-1,"type":"quantitative"}}}
]},
{
"width":420,"height":129,"title":"Fall Delays",
"layer":[
{"data":{"name":"fall"},"mark":{"type":"line","clip":true,"strokeWidth":3},
"encoding":{
"x":{"field":"d","type":"quantitative","scale":{"domain":[-50,100],"nice":false,"zero":false},"axis":{"title":"Inserted Delay (s)","labelOverlap":false,"tickCount":50,"values":[-50,-25,0,25,50,75,100],"labelExpr":"datum.value == 0 ? '0.00' : datum.value == 100 ? '100' : format(datum.value, '.1f')"}},
"y":{"field":"v","type":"quantitative","scale":{"domain":[4554,4735],"nice":false,"zero":false},"axis":{"title":"Delay wrt Ref (ps)","labelOverlap":false,"tickCount":50,"values":[4560,4580,4600,4620,4640,4660,4680,4700,4720],"format":"d"}},
"color":{"field":"stat","type":"nominal","scale":{"domain":["mean","min","max"],"range":["#0000ff","#bfbf00","#ff0000"]},"legend":{"title":null,"symbolType":"M-2,0L2,0M-1,-1L1,1M-1,1L1,-1","symbolSize":121,"symbolStrokeWidth":3,"labelFontSize":13,"offset":12,"labelOffset":9,"rowPadding":0,"clipHeight":13}}}},
{"data":{"name":"fall"},"mark":{"type":"point","clip":true,"shape":"M-1,-1L1,1M-1,1L1,-1","size":144,"filled":false,"strokeWidth":3,"opacity":1},
"encoding":{"x":{"field":"d","type":"quantitative"},"y":{"field":"v","type":"quantitative"},"color":{"field":"stat","type":"nominal"}}},
{"data":{"values":[{}]},"mark":{"type":"text","text":"×10⁻¹²","align":"left","baseline":"middle","dx":3,"dy":-5,"fontSize":13,"font":"DejaVu Serif"},
"encoding":{"x":{"datum":100,"type":"quantitative"},"y":{"datum":4554,"type":"quantitative"}}}
]}
],
"config":{
"font":"DejaVu Serif",
"view":{"stroke":"#000000","strokeWidth":2},
"axis":{"domain":false,"grid":true,"gridColor":"#b0b0b0","gridDash":[7,4],"gridWidth":1.5,"ticks":true,"tickColor":"#000000","tickSize":-5,"tickWidth":1.5,"tickCount":50,"labelFontSize":14,"labelColor":"#000000","labelFont":"DejaVu Serif","labelFlush":false,"labelOverlap":false,"titleFont":"DejaVu Serif","titleFontSize":14,"titleFontWeight":"normal","titleColor":"#000000"},
"axisX":{"titlePadding":0,"labelPadding":11},
"axisY":{"titlePadding":22,"labelPadding":9},
"title":{"font":"DejaVu Serif","fontSize":14,"fontWeight":"bold","offset":1,"color":"#000000"},
"legend":{"labelFont":"DejaVu Serif","labelFontSize":13,"labelColor":"#000000","rowPadding":0,"padding":0,"offset":5,"labelOffset":6}
}
}
